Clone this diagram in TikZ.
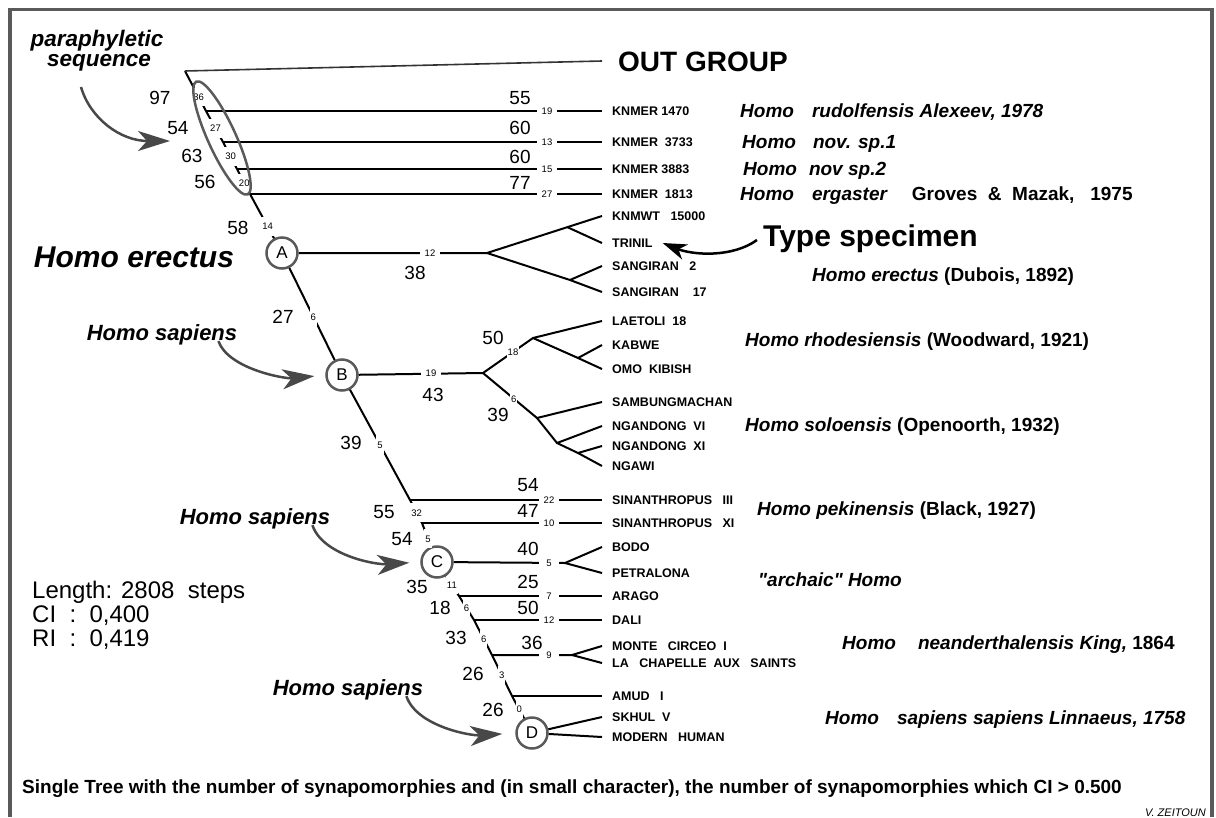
\documentclass[tikz,border=0pt]{standalone}
\usepackage{fontspec}
\setmainfont{Liberation Sans}
\usetikzlibrary{arrows.meta}
\definecolor{framegray}{HTML}{5A5A5A}
\definecolor{arrowgray}{HTML}{484848}
\newcommand\straightquote{\XeTeXglyph\XeTeXcharglyph"22\relax}

\tikzset{
  tree/.style={line width=2pt, black},
  taxon/.style={anchor=west, inner xsep=10pt, inner ysep=0pt, text height=9pt, text depth=0pt, font=\bfseries\fontsize{12.5}{13}\selectfont},
  species/.style={anchor=west, inner sep=0pt, text height=13.7pt, text depth=0pt, font=\bfseries\itshape\fontsize{19}{19}\selectfont},
  bignum/.style={inner sep=0pt, text height=13.6pt, text depth=0pt, font=\fontsize{19}{19}\selectfont},
  hnum/.style={fill=white, inner xsep=3pt, inner ysep=2pt, minimum width=20pt, text height=6.8pt, text depth=0pt, font=\fontsize{9.5}{10}\selectfont},
  vnum/.style={hnum, minimum width=0pt, inner xsep=1pt, inner ysep=6pt},
  clade/.style={circle, draw=framegray, line width=2.5pt, fill=white, minimum size=31pt, inner sep=0pt, font=\fontsize{17}{17}\selectfont},
  pointer/.style={arrowgray, line width=2.5pt, -{Stealth[length=32pt,width=20pt,inset=9pt]}},
  callout/.style={inner sep=0pt, text height=15.8pt, text depth=0pt, font=\bfseries\itshape\fontsize{22}{22}\selectfont},
  stats/.style={anchor=west, inner sep=0pt, text height=17.2pt, text depth=0pt, font=\fontsize{24}{24}\selectfont}
}

\begin{document}
\begin{tikzpicture}[x=1pt, y=-1pt]
    \useasboundingbox (0,0) rectangle (1216,817);
    \draw[framegray, line width=3.5pt] (10,817) -- (10,9.5) -- (1212,9.5) -- (1212,817);

    % main trunk
    \coordinate (root) at (185,71);
    \coordinate (k1) at (206,111);
    \coordinate (k2) at (223,142);
    \coordinate (k3) at (237,169);
    \coordinate (k4) at (250,194);
    \node[clade] (A) at (282,253) {A};
    \node[clade] (B) at (342,375) {B};
    \coordinate (s1) at (410,500);
    \coordinate (s2) at (422,523);
    \node[clade] (C) at (437,562) {C};
    \coordinate (a1) at (459,596);
    \coordinate (a2) at (474,620);
    \coordinate (a3) at (492,655);
    \coordinate (a4) at (512,696);
    \node[clade] (D) at (532,733) {D};

    % terminal taxa
    \node[anchor=west, inner xsep=16pt, inner ysep=0pt, text height=20pt, text depth=0pt, font=\bfseries\fontsize{28}{28}\selectfont] (out) at (602,61) {OUT GROUP};
    \node[taxon] (knmer1470) at (602,111) {KNMER 1470};
    \node[taxon] (knmer3733) at (602,142) {KNMER\ \ 3733};
    \node[taxon] (knmer3883) at (602,169) {KNMER 3883};
    \node[taxon] (knmer1813) at (602,194) {KNMER\ \ 1813};
    \node[taxon] (knmwt) at (602,216) {KNMWT\ \ \ 15000};
    \node[taxon] (trinil) at (602,243) {TRINIL};
    \node[taxon] (sang2) at (602,266) {SANGIRAN\ \ \ 2};
    \node[taxon] (sang17) at (602,292) {SANGIRAN\ \ \ \ 17};
    \node[taxon] (laetoli) at (602,321) {LAETOLI\ \ 18};
    \node[taxon] (kabwe) at (602,345) {KABWE};
    \node[taxon] (omo) at (602,369) {OMO\ \ KIBISH};
    \node[taxon] (sambung) at (602,402) {SAMBUNGMACHAN};
    \node[taxon] (ngvi) at (602,426) {NGANDONG\ \ VI};
    \node[taxon] (ngxi) at (602,446) {NGANDONG\ \ XI};
    \node[taxon] (ngawi) at (602,466) {NGAWI};
    \node[taxon] (sin3) at (602,500) {SINANTHROPUS\ \ \ III};
    \node[taxon] (sin11) at (602,523) {SINANTHROPUS\ \ \ XI};
    \node[taxon] (bodo) at (602,547) {BODO};
    \node[taxon] (petra) at (602,573) {PETRALONA};
    \node[taxon] (arago) at (602,596) {ARAGO};
    \node[taxon] (dali) at (602,620) {DALI};
    \node[taxon] (monte) at (602,646) {MONTE\ \ \ CIRCEO\ \ I};
    \node[taxon] (lachap) at (602,663) {LA\ \ \ CHAPELLE\ \ AUX\ \ \ SAINTS};
    \node[taxon] (amud) at (602,696) {AMUD\ \ \ I};
    \node[taxon] (skhul) at (602,717) {SKHUL\ \ V};
    \node[taxon] (modern) at (602,737) {MODERN\ \ \ HUMAN};

    \draw[tree] (root) -- node[vnum, pos=.65] (s36) {36} (k1)
        -- node[vnum, pos=.56] (s27) {27} (k2)
        -- node[vnum, pos=.54] (s30) {30} (k3)
        -- node[vnum, pos=.56] (s20) {20} (k4)
        -- node[vnum, pos=.73] (s14) {14} (A)
        -- node[vnum, pos=.53] (s6a) {6} (B)
        -- node[vnum, pos=.5] (s5a) {5} (s1)
        -- node[vnum, pos=.56] (s32) {32} (s2)
        -- node[vnum, pos=.68] (s5b) {5} (C)
        -- node[vnum, pos=.45] (s11) {11} (a1)
        -- node[vnum, pos=.5] (s6b) {6} (a2)
        -- node[vnum, pos=.54] (s6c) {6} (a3)
        -- node[vnum, pos=.49] (s3) {3} (a4)
        -- node[vnum, pos=.6] (s0) {0} (D);

    % paraphyletic branches
    \draw[line width=1.6pt, black!80] (root) -- (out.west);
    \draw[tree] (k1) -- (knmer1470.west);
    \draw[tree] (k2) -- (knmer3733.west);
    \draw[tree] (k3) -- (knmer3883.west);
    \draw[tree] (k4) -- (knmer1813.west);
    \node[hnum] (h19a) at (547,111) {19};
    \node[hnum] (h13) at (547,142) {13};
    \node[hnum] (h15) at (547,169) {15};
    \node[hnum] (h27) at (547,194) {27};

    % clade A
    \coordinate (forkA) at (487,253);
    \coordinate (subA1) at (567,227);
    \coordinate (subA2) at (570,280);
    \draw[tree] (A) -- (forkA) -- (knmwt.west);
    \draw[tree] (subA1) -- (trinil.west);
    \draw[tree] (forkA) -- (subA2) -- (sang17.west);
    \draw[tree] (subA2) -- (sang2.west);
    \node[hnum] (h12a) at (430,253) {12};

    % clade B
    \coordinate (forkB) at (483,373);
    \coordinate (nB1) at (533,338);
    \coordinate (subB) at (578,358);
    \coordinate (nB2) at (537,418);
    \coordinate (nB3) at (557,443);
    \coordinate (nB4) at (578,453);
    \draw[tree] (B) -- (forkB) -- node[vnum, pos=.6] (s18) {18} (nB1) -- (laetoli.west);
    \draw[tree] (nB1) -- (subB) -- (omo.west);
    \draw[tree] (subB) -- (kabwe.west);
    \draw[tree] (forkB) -- node[vnum, pos=.57] (s6d) {6} (nB2) -- (sambung.west);
    \draw[tree] (nB2) -- (nB3) -- (ngvi.west);
    \draw[tree] (nB3) -- (nB4) -- (ngawi.west);
    \draw[tree] (nB4) -- (ngxi.west);
    \node[hnum] (h19b) at (431,373) {19};

    % pekinensis and clade C
    \coordinate (forkC) at (565,563);
    \coordinate (forkM) at (572,655);
    \draw[tree] (s1) -- (sin3.west);
    \draw[tree] (s2) -- (sin11.west);
    \draw[tree] (C) -- (forkC) -- (bodo.west);
    \draw[tree] (forkC) -- (petra.west);
    \draw[tree] (a1) -- (arago.west);
    \draw[tree] (a2) -- (dali.west);
    \draw[tree] (a3) -- (forkM) -- (monte.west);
    \draw[tree] (forkM) -- (lachap.west);
    \draw[tree] (a4) -- (amud.west);
    \draw[tree] (D) -- (skhul.west);
    \draw[tree] (D) -- (modern.west);
    \node[hnum] (h22) at (549,500) {22};
    \node[hnum] (h10) at (549,523) {10};
    \node[hnum] (h5) at (549,563) {5};
    \node[hnum] (h7) at (549,596) {7};
    \node[hnum] (h12b) at (549,620) {12};
    \node[hnum] (h9) at (549,655) {9};

    % synapomorphy counts
    \node[bignum] (b97) at (160,98) {97};
    \node[bignum] (b54a) at (178,128) {54};
    \node[bignum] (b63) at (192,156) {63};
    \node[bignum] (b56) at (205,182) {56};
    \node[bignum] (b58) at (238,228) {58};
    \node[bignum] (b55a) at (520,98) {55};
    \node[bignum] (b60a) at (520,128) {60};
    \node[bignum] (b60b) at (520,157) {60};
    \node[bignum] (b77) at (520,183) {77};
    \node[bignum] (b38) at (415,273) {38};
    \node[bignum] (b27) at (283,317) {27};
    \node[bignum] (b50a) at (493,338) {50};
    \node[bignum] (b43) at (433,395) {43};
    \node[bignum] (b39a) at (498,415) {39};
    \node[bignum] (b39b) at (351,443) {39};
    \node[bignum] (b54b) at (528,485) {54};
    \node[bignum] (b47) at (528,511) {47};
    \node[bignum] (b55b) at (384,512) {55};
    \node[bignum] (b54c) at (402,539) {54};
    \node[bignum] (b40) at (528,549) {40};
    \node[bignum] (b35) at (417,587) {35};
    \node[bignum] (b25) at (528,582) {25};
    \node[bignum] (b18) at (440,608) {18};
    \node[bignum] (b50b) at (528,608) {50};
    \node[bignum] (b33) at (456,638) {33};
    \node[bignum] (b36) at (532,643) {36};
    \node[bignum] (b26a) at (473,674) {26};
    \node[bignum] (b26b) at (493,710) {26};

    % paraphyletic group
    \draw[framegray, line width=2.5pt, rotate around={-65.5:(222,138)}] (222,138) ellipse (62 and 14);
    \node[anchor=base, inner sep=0pt, font=\bfseries\itshape\fontsize{22.5}{22.5}\selectfont] (para1) at (97,46) {paraphyletic};
    \node[anchor=base, inner sep=0pt, font=\bfseries\itshape\fontsize{22.5}{22.5}\selectfont] (para2) at (99,66) {sequence};
    \coordinate (paraTail) at (81,87);
    \coordinate (paraTip) at (170,141);
    \draw[pointer] (paraTail) .. controls (90,118) and (120,141) .. (paraTip);

    % species names
    \node[species] (rud) at (740,111) {Homo\hspace{18pt}rudolfensis Alexeev, 1978};
    \node[species] (nov1) at (742,142) {Homo\hspace{17pt}nov. sp.1};
    \node[species] (nov2) at (743,169) {Homo\hspace{12pt}nov sp.2};
    \node[species] (erg) at (740,194) {Homo\hspace{18pt}ergaster\hspace{24pt}\textup{Groves\ \ \&\ \ Mazak,\ \ \ 1975}};
    \node[anchor=west, inner sep=0pt, text height=21.5pt, text depth=0pt, font=\bfseries\fontsize{30}{30}\selectfont] (type) at (763,236) {Type specimen};
    \draw[black, line width=2.5pt, -{Stealth[length=24pt,width=16pt,inset=7pt]}] ([xshift=-6pt, yshift=-4pt]type.west) .. controls +(-25,18) and +(30,12) .. (trinil.east);
    \node[species] (ere) at (812,275) {Homo erectus \textup{(Dubois, 1892)}};
    \node[species] (rho) at (745,340) {Homo rhodesiensis \textup{(Woodward, 1921)}};
    \node[species] (sol) at (745,425) {Homo soloensis \textup{(Openoorth, 1932)}};
    \node[species] (pek) at (757,509) {Homo pekinensis \textup{(Black, 1927)}};
    \node[species] (arch) at (758,580) {\straightquote archaic\straightquote{} Homo};
    \node[species] (nea) at (842,643) {Homo\hspace{22pt}neanderthalensis King, \textup{1864}};
    \node[species] (sap) at (825,718) {Homo\hspace{18pt}sapiens sapiens Linnaeus, 1758};

    % left labels
    \node[inner sep=0pt, text height=21.5pt, text depth=0pt, font=\bfseries\itshape\fontsize{30}{30}\selectfont] (herect) at (134,257) {Homo erectus};
    \node[callout] (hsB) at (162,333) {Homo sapiens};
    \node[callout] (hsC) at (255,517) {Homo sapiens};
    \node[callout] (hsD) at (348,688) {Homo sapiens};
    \draw[pointer, shorten >=11pt] ([xshift=-19pt]hsB.south east) .. controls +(10,28) and +(-40,4) .. (B.west);
    \draw[pointer, shorten >=11pt] ([xshift=-18pt]hsC.south east) .. controls +(10,30) and +(-45,3) .. (C.west);
    \draw[pointer, shorten >=13pt] ([xshift=-17pt]hsD.south east) .. controls +(10,30) and +(-45,3) .. (D.west);

    % tree statistics
    \node[stats] (len) at (32,590) {Length: 2808\ \ steps};
    \node[stats] (ci) at (32,614) {CI\ \ :\ \ 0,400};
    \node[stats] (ri) at (32,638) {RI\ \ :\ \ 0,419};

    \node[anchor=west, inner sep=0pt, text height=13.6pt, text depth=0pt, font=\bfseries\fontsize{19}{19}\selectfont] (caption) at (22,787) {Single Tree with the number of synapomorphies and (in small character), the number of synapomorphies which CI > 0.500};
    \node[anchor=east, inner sep=0pt, text height=8pt, text depth=0pt, font=\itshape\fontsize{11}{11}\selectfont] (credit) at (1206,812) {V. ZEITOUN};
\end{tikzpicture}
\end{document}
